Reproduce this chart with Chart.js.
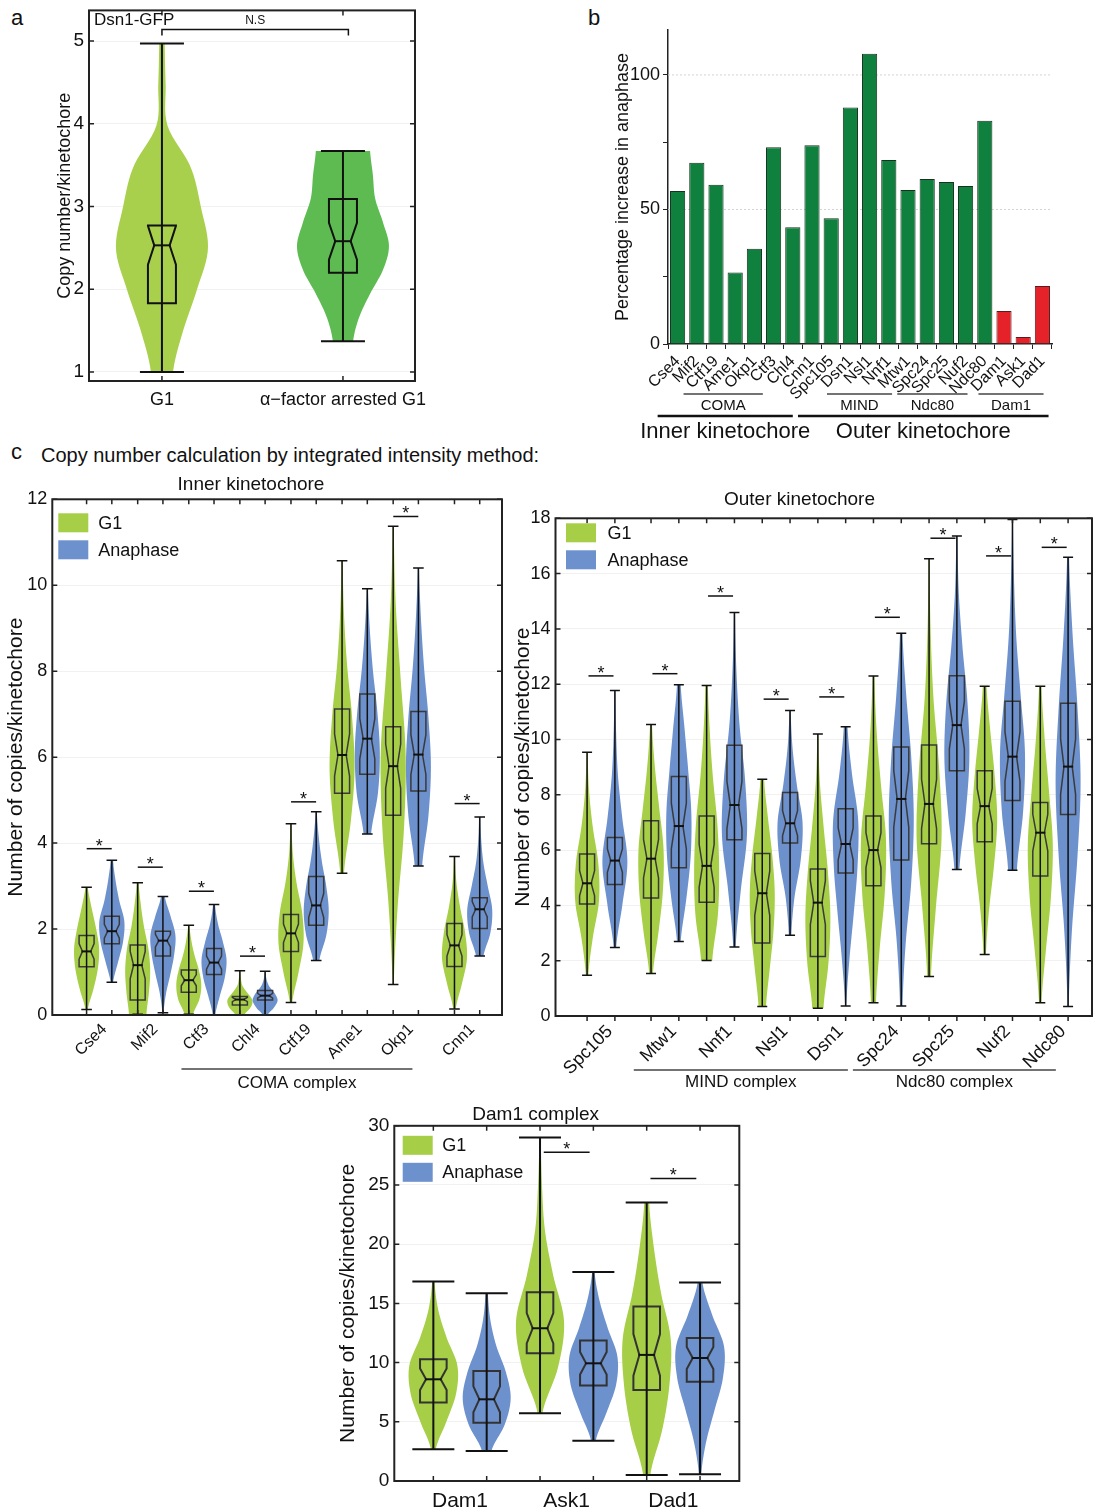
<!DOCTYPE html>
<html>
<head>
<meta charset="utf-8">
<script src="https://cdn.jsdelivr.net/npm/chart.js@4.4.0/dist/chart.umd.min.js"></script>
<style>
  body { margin: 0; background: #fff; width: 1101px; height: 1507px; position: relative; overflow: hidden;
         font-family: "Liberation Sans", Arial, Helvetica, sans-serif; color: #111; }
  canvas { position: absolute; }
  .lbl { position: absolute; font-size: 22px; line-height: 26px; }
  .cap { position: absolute; font-size: 20px; line-height: 24px; white-space: nowrap; }
</style>
</head>
<body>
<div class="lbl" style="left:11px;top:5px">a</div>
<div class="lbl" style="left:588px;top:5px">b</div>
<div class="lbl" style="left:11px;top:439px">c</div>
<div class="cap" style="left:41px;top:443px">Copy number calculation by integrated intensity method:</div>

<canvas id="chartA" width="440" height="426" style="left:0;top:-6px"></canvas>
<canvas id="chartB" width="511" height="450" style="left:590px;top:0"></canvas>
<canvas id="chartInner" width="507" height="630" style="left:0;top:470px"></canvas>
<canvas id="chartOuter" width="594" height="630" style="left:507px;top:470px"></canvas>
<canvas id="chartDam" width="420" height="412" style="left:330px;top:1095px"></canvas>

<script>
// ---------- data ----------
// violin stats are [min, q1, median, q3, max]; density = relative width at evenly spaced levels min..max

// panel a
const aNames = ['G1', 'α−factor arrested G1'];
const aStats = [[1.0, 1.83, 2.53, 2.77, 4.97], [1.37, 2.2, 2.58, 3.09, 3.67]];
const aDens = [[0.24, 0.46, 0.76, 1.0, 0.85, 0.62, 0.12, 0.08, 0.06],
               [0.22, 0.35, 0.59, 0.87, 1.0, 0.87, 0.7, 0.65, 0.59]];
const aTicks = [1, 2, 3, 4, 5];

// panel b
const bNames = ['Cse4', 'Mif2', 'Ctf19', 'Ame1', 'Okp1', 'Ctf3', 'Chl4', 'Cnn1', 'Spc105', 'Dsn1',
                'Nsl1', 'Nnf1', 'Mtw1', 'Spc24', 'Spc25', 'Nuf2', 'Ndc80', 'Dam1', 'Ask1', 'Dad1'];
const bValues = [56.9, 67.4, 59.2, 26.6, 35.4, 73.1, 43.4, 73.9, 46.7, 87.9,
                 107.9, 68.4, 57.2, 61.3, 60.2, 58.7, 83.0, 12.3, 2.6, 21.6];
const bTicks = [0, 25, 50, 75, 100];

// panel c, inner kinetochore
const innerNames = ['Cse4', 'Mif2', 'Ctf3', 'Chl4', 'Ctf19', 'Ame1', 'Okp1', 'Cnn1'];
const innerSlots = [0, 1, 2, 3, 4, 5, 6, 7.2];
const innerG1 = [
  [0.13, 1.12, 1.48, 1.85, 2.97], [0.02, 0.35, 1.16, 1.63, 3.08], [0.02, 0.53, 0.81, 1.05, 2.09],
  [0.0, 0.23, 0.36, 0.43, 1.03], [0.29, 1.48, 1.9, 2.34, 4.45], [3.3, 5.16, 6.05, 7.12, 10.57],
  [0.71, 4.65, 5.79, 6.71, 11.37], [0.14, 1.13, 1.62, 2.13, 3.69]];
const innerAna = [
  [0.76, 1.66, 1.95, 2.3, 3.6], [0.05, 1.37, 1.73, 1.95, 2.76], [0.0, 0.94, 1.22, 1.55, 2.57],
  [0.0, 0.35, 0.45, 0.57, 1.02], [1.27, 2.09, 2.55, 3.22, 4.73], [4.21, 5.6, 6.43, 7.47, 9.92],
  [3.47, 5.21, 6.06, 7.06, 10.4], [1.37, 2.01, 2.46, 2.73, 4.61]];
const innerG1Dens = [
  [0.1, 0.55, 0.9, 1.0, 0.75, 0.4, 0.1], [0.7, 0.9, 1.0, 0.85, 0.5, 0.25, 0.08],
  [0.35, 0.85, 1.0, 0.8, 0.45, 0.2, 0.05], [0.35, 0.85, 1.0, 0.6, 0.2, 0.08, 0.04],
  [0.1, 0.6, 1.0, 0.9, 0.45, 0.15, 0.05], [0.15, 0.7, 1.0, 0.8, 0.4, 0.15, 0.05],
  [0.05, 0.35, 0.85, 1.0, 0.6, 0.2, 0.05], [0.1, 0.6, 1.0, 0.85, 0.45, 0.15, 0.05]];
const innerAnaDens = [
  [0.1, 0.5, 0.9, 1.0, 0.6, 0.3, 0.1], [0.05, 0.25, 0.6, 0.9, 1.0, 0.6, 0.15],
  [0.1, 0.45, 0.85, 1.0, 0.7, 0.3, 0.08], [0.2, 0.7, 1.0, 0.75, 0.3, 0.1, 0.04],
  [0.25, 0.8, 1.0, 0.8, 0.45, 0.2, 0.05], [0.3, 0.85, 1.0, 0.8, 0.45, 0.2, 0.05],
  [0.3, 0.8, 1.0, 0.8, 0.45, 0.2, 0.05], [0.3, 0.85, 1.0, 0.65, 0.3, 0.12, 0.05]];
const innerSig = [3.87, 3.44, 2.88, 1.37, 4.96, null, 11.6, 4.92];
const innerTicks = [0, 2, 4, 6, 8, 10, 12];

// panel c, outer kinetochore
const outerNames = ['Spc105', 'Mtw1', 'Nnf1', 'Nsl1', 'Dsn1', 'Spc24', 'Spc25', 'Nuf2', 'Ndc80'];
const outerSlots = [0, 1.15, 2.15, 3.15, 4.15, 5.15, 6.15, 7.15, 8.15];
const outerG1 = [
  [1.47, 4.05, 4.8, 5.86, 9.54], [1.54, 4.27, 5.69, 7.06, 10.54], [2.01, 4.11, 5.43, 7.23, 11.95],
  [0.34, 2.64, 4.44, 5.88, 8.56], [0.28, 2.15, 4.1, 5.32, 10.2], [0.48, 4.71, 6.0, 7.23, 12.3],
  [1.43, 6.23, 7.67, 9.8, 16.54], [2.22, 6.3, 7.59, 8.87, 11.93], [0.48, 5.06, 6.63, 7.72, 11.93]];
const outerAna = [
  [2.48, 4.76, 5.62, 6.46, 11.77], [2.69, 5.36, 6.87, 8.66, 11.98], [2.5, 6.37, 7.63, 9.79, 14.59],
  [2.92, 6.26, 6.97, 8.08, 11.05], [0.36, 5.17, 6.22, 7.5, 10.46], [0.36, 5.64, 7.85, 9.73, 13.84],
  [5.3, 8.87, 10.52, 12.31, 17.36], [5.27, 7.79, 9.38, 11.38, 17.96], [0.34, 7.29, 9.02, 11.31, 16.59]];
const outerG1Dens = [
  [0.1, 0.45, 0.95, 0.9, 0.45, 0.15, 0.05], [0.15, 0.6, 0.95, 1.0, 0.65, 0.3, 0.08],
  [0.45, 0.9, 1.0, 0.85, 0.5, 0.25, 0.1], [0.3, 0.6, 0.9, 1.0, 0.8, 0.45, 0.15],
  [0.45, 0.85, 1.0, 0.8, 0.45, 0.15, 0.05], [0.2, 0.5, 0.9, 1.0, 0.6, 0.25, 0.08],
  [0.15, 0.55, 1.0, 0.8, 0.35, 0.12, 0.04], [0.1, 0.35, 0.75, 1.0, 0.8, 0.45, 0.15],
  [0.1, 0.45, 0.85, 1.0, 0.7, 0.35, 0.1]];
const outerAnaDens = [
  [0.1, 0.6, 1.0, 0.6, 0.25, 0.1, 0.04], [0.15, 0.6, 0.95, 1.0, 0.75, 0.45, 0.15],
  [0.1, 0.5, 1.0, 0.85, 0.4, 0.15, 0.05], [0.1, 0.35, 0.85, 1.0, 0.55, 0.2, 0.05],
  [0.05, 0.3, 0.65, 0.95, 1.0, 0.5, 0.15], [0.1, 0.35, 0.8, 1.0, 0.8, 0.4, 0.1],
  [0.2, 0.7, 1.0, 0.85, 0.45, 0.15, 0.05], [0.35, 0.85, 1.0, 0.65, 0.3, 0.12, 0.04],
  [0.05, 0.3, 0.75, 1.0, 0.75, 0.35, 0.08]];
const outerSig = [12.3, 12.38, 15.19, 11.46, 11.54, 14.42, 17.28, 16.64, 16.95];
const outerTicks = [0, 2, 4, 6, 8, 10, 12, 14, 16, 18];

// Dam1 complex
const damNames = ['Dam1', 'Ask1', 'Dad1'];
const damSlots = [0, 1, 2];
const damG1 = [[2.68, 6.62, 8.59, 10.28, 16.85], [5.72, 10.79, 12.9, 15.94, 29.01], [0.51, 7.69, 10.65, 14.73, 23.52]];
const damAna = [[2.54, 4.93, 6.9, 9.3, 15.86], [3.41, 8.06, 9.94, 11.86, 17.66], [0.56, 8.39, 10.39, 12.08, 16.76]];
const damG1Dens = [[0.1, 0.55, 0.95, 1.0, 0.55, 0.2, 0.05], [0.1, 0.75, 1.0, 0.55, 0.2, 0.08, 0.03],
                   [0.15, 0.65, 0.95, 1.0, 0.6, 0.3, 0.1]];
const damAnaDens = [[0.2, 0.75, 1.0, 0.8, 0.4, 0.15, 0.05], [0.1, 0.55, 0.95, 1.0, 0.6, 0.25, 0.05],
                    [0.05, 0.25, 0.6, 0.95, 1.0, 0.5, 0.1]];
const damSig = [null, 27.77, 25.55];
const damTicks = [0, 5, 10, 15, 20, 25, 30];

// ---------- drawing ----------
const FONT = '"Liberation Sans", Arial, Helvetica, sans-serif';
const G1_COLOR = '#a6ce47';
const ANA_COLOR = '#6d91cd';
Chart.defaults.font.family = FONT;
Chart.defaults.color = '#111';

function smoothWidths(dens, n) {
  const m = dens.length, out = [];
  for (let k = 0; k <= n; k++) {
    const t = k / n * (m - 1);
    const i = Math.min(Math.floor(t), m - 2), f = t - i;
    const p0 = dens[Math.max(i - 1, 0)], p1 = dens[i], p2 = dens[i + 1], p3 = dens[Math.min(i + 2, m - 1)];
    const w = 0.5 * (2 * p1 + (p2 - p0) * f + (2 * p0 - 5 * p1 + 4 * p2 - p3) * f * f +
                     (3 * p1 - p0 - 3 * p2 + p3) * f * f * f);
    out.push(Math.max(w, 0.02));
  }
  return out;
}

function drawViolin(ctx, y, cx, st, dens, color, sz) {
  const n = 60, ws = smoothWidths(dens, n);
  const [mn, q1, md, q3, mx] = st;
  const Y = v => y.getPixelForValue(v);
  ctx.beginPath();
  for (let k = 0; k <= n; k++) {
    const py = Y(mn + (mx - mn) * k / n);
    k ? ctx.lineTo(cx + ws[k] * sz.vw, py) : ctx.moveTo(cx + ws[k] * sz.vw, py);
  }
  for (let k = n; k >= 0; k--) ctx.lineTo(cx - ws[k] * sz.vw, Y(mn + (mx - mn) * k / n));
  ctx.closePath();
  ctx.fillStyle = color;
  ctx.fill();

  // notched box
  const nh = 0.25 * (q3 - q1);
  const lo = Math.max(q1, md - nh), hi = Math.min(q3, md + nh);
  const b = sz.bw, w = sz.bw * 0.55;
  ctx.beginPath();
  ctx.moveTo(cx - b, Y(q1)); ctx.lineTo(cx - b, Y(lo)); ctx.lineTo(cx - w, Y(md));
  ctx.lineTo(cx - b, Y(hi)); ctx.lineTo(cx - b, Y(q3)); ctx.lineTo(cx + b, Y(q3));
  ctx.lineTo(cx + b, Y(hi)); ctx.lineTo(cx + w, Y(md)); ctx.lineTo(cx + b, Y(lo));
  ctx.lineTo(cx + b, Y(q1)); ctx.closePath();
  ctx.strokeStyle = sz.boxColor; ctx.lineWidth = sz.blw; ctx.stroke();

  // whisker and caps
  ctx.strokeStyle = '#111'; ctx.lineWidth = sz.lw;
  ctx.beginPath();
  ctx.moveTo(cx, Y(mn)); ctx.lineTo(cx, Y(mx));
  ctx.moveTo(cx - sz.cw, Y(mn)); ctx.lineTo(cx + sz.cw, Y(mn));
  ctx.moveTo(cx - sz.cw, Y(mx)); ctx.lineTo(cx + sz.cw, Y(mx));
  ctx.stroke();

  // median
  ctx.lineWidth = sz.mlw;
  ctx.beginPath(); ctx.moveTo(cx - w - 1, Y(md)); ctx.lineTo(cx + w + 1, Y(md)); ctx.stroke();
}

function violinPlugin(cfg) {
  return {
    id: 'violins',
    afterDatasetsDraw(chart) {
      const { ctx, chartArea: ca, scales: { x, y } } = chart;
      const sz = cfg.size;
      ctx.save();
      cfg.groups.forEach(g => g.stats.forEach((st, i) => {
        const col = Array.isArray(g.color) ? g.color[i] : g.color;
        drawViolin(ctx, y, x.getPixelForValue(cfg.slots[i] + g.offset), st, g.dens[i], col, sz);
      }));

      // significance bars
      if (cfg.sig) {
        ctx.strokeStyle = '#111'; ctx.lineWidth = 1.5; ctx.fillStyle = '#111';
        ctx.font = '18px ' + FONT; ctx.textAlign = 'center'; ctx.textBaseline = 'alphabetic';
        cfg.sig.forEach((v, i) => {
          if (v === null) return;
          const x0 = x.getPixelForValue(cfg.slots[i] - cfg.sigHalf), x1 = x.getPixelForValue(cfg.slots[i] + cfg.sigHalf);
          const py = y.getPixelForValue(v);
          ctx.beginPath(); ctx.moveTo(x0, py); ctx.lineTo(x1, py); ctx.stroke();
          ctx.fillText('*', (x0 + x1) / 2, py + 3);
        });
      }

      // frame with ticks (bottom ticks point outward when tickOut is set)
      ctx.strokeStyle = '#222'; ctx.lineWidth = 2;
      ctx.strokeRect(ca.left, ca.top, ca.right - ca.left, ca.bottom - ca.top);
      ctx.lineWidth = 1.5;
      ctx.beginPath();
      y.ticks.forEach(t => {
        const py = y.getPixelForValue(t.value);
        ctx.moveTo(ca.left, py); ctx.lineTo(ca.left + 5, py);
        ctx.moveTo(ca.right, py); ctx.lineTo(ca.right - 5, py);
      });
      const bt = cfg.tickOut ? 5 : -5;
      cfg.groups.forEach(g => cfg.slots.forEach(s => {
        const px = x.getPixelForValue(s + g.offset);
        ctx.moveTo(px, ca.top); ctx.lineTo(px, ca.top + 5);
        ctx.moveTo(px, ca.bottom); ctx.lineTo(px, ca.bottom + bt);
      }));
      ctx.stroke();

      // legend
      if (cfg.legend) {
        const L = cfg.legend;
        ctx.font = L.font + 'px ' + FONT; ctx.textAlign = 'left'; ctx.textBaseline = 'middle';
        cfg.groups.forEach((g, i) => {
          const yy = ca.top + L.dy[i];
          ctx.fillStyle = g.color; ctx.fillRect(ca.left + L.dx, yy, L.w, L.h);
          ctx.fillStyle = '#111'; ctx.fillText(g.label, ca.left + L.tx, yy + L.h / 2 + 1);
        });
      }

      // complex brackets under the axis
      (cfg.brackets || []).forEach(br => {
        const x0 = x.getPixelForValue(br.from), x1 = x.getPixelForValue(br.to);
        ctx.strokeStyle = '#444'; ctx.lineWidth = 1.5;
        ctx.beginPath(); ctx.moveTo(x0, ca.bottom + br.dy); ctx.lineTo(x1, ca.bottom + br.dy); ctx.stroke();
        ctx.fillStyle = '#111'; ctx.font = '17px ' + FONT; ctx.textAlign = 'center'; ctx.textBaseline = 'middle';
        ctx.fillText(br.text, (x0 + x1) / 2, ca.bottom + br.tdy);
      });

      if (cfg.extra) cfg.extra(chart);
      ctx.restore();
    }
  };
}

function violinChart(id, cfg) {
  const shift = cfg.labelShift || 0;
  return new Chart(document.getElementById(id), {
    type: 'scatter',
    data: {
      datasets: cfg.groups.map(g => ({
        label: g.label,
        data: g.stats.map((s, i) => ({ x: cfg.slots[i] + g.offset, y: s[2] })),
        pointRadius: 0
      }))
    },
    options: {
      responsive: false, animation: false, events: [],
      layout: { padding: cfg.padding },
      plugins: {
        legend: { display: false }, tooltip: { enabled: false },
        title: cfg.title ? { display: true, text: cfg.title, font: { size: 19, weight: 'normal' }, color: '#111',
                             padding: cfg.titlePad } : { display: false }
      },
      scales: {
        x: {
          type: 'linear', min: cfg.xMin, max: cfg.xMax,
          afterBuildTicks: s => { s.ticks = cfg.slots.map(v => ({ value: v + shift })); },
          afterFit: s => { s.height = cfg.xAxisH; },
          grid: { display: false }, border: { display: false },
          ticks: { autoSkip: false, maxRotation: cfg.rot, minRotation: cfg.rot, font: { size: cfg.xFont },
                   color: '#111', padding: cfg.xPad, callback: (v, i) => cfg.names[i] }
        },
        y: {
          min: cfg.yMin, max: cfg.yMax,
          afterBuildTicks: s => { s.ticks = cfg.yTicks.map(v => ({ value: v })); },
          afterFit: s => { s.width = cfg.yAxisW; },
          grid: { color: '#f1f1f1', drawTicks: false }, border: { display: false },
          ticks: { font: { size: cfg.yFont }, color: '#111', padding: 5 },
          title: { display: true, text: cfg.yTitle, font: { size: cfg.yTitleFont }, color: '#111', padding: { top: 4, bottom: 4 } }
        }
      }
    },
    plugins: [violinPlugin(cfg)]
  });
}

// ---------- panel a ----------
violinChart('chartA', {
  names: aNames, slots: [1, 2], xMin: 0.597, xMax: 2.398, yMin: 0.89, yMax: 5.37, yTicks: aTicks,
  padding: { left: 50, top: 14, right: 25, bottom: 0 }, yAxisW: 39, xAxisH: 39,
  rot: 0, xFont: 18, xPad: 0, yFont: 19, yTitle: 'Copy number/kinetochore', yTitleFont: 18,
  groups: [{ label: '', offset: 0, stats: aStats, dens: aDens, color: ['#a8d04c', '#5dbb52'] }],
  size: { vw: 46, bw: 14, cw: 22, lw: 2, blw: 2, mlw: 2, boxColor: '#111' },
  extra(chart) {
    const { ctx, chartArea: ca, scales: { x, y } } = chart;
    const x0 = x.getPixelForValue(1), x1 = x.getPixelForValue(2.03), py = y.getPixelForValue(5.14);
    ctx.strokeStyle = '#111'; ctx.lineWidth = 1.5;
    ctx.beginPath();
    ctx.moveTo(x0, py + 6); ctx.lineTo(x0, py); ctx.lineTo(x1, py); ctx.lineTo(x1, py + 6);
    ctx.stroke();
    ctx.fillStyle = '#111'; ctx.textBaseline = 'middle';
    ctx.font = '12px ' + FONT; ctx.textAlign = 'center';
    ctx.fillText('N.S', (x0 + x1) / 2, ca.top + 10);
    ctx.font = '17px ' + FONT; ctx.textAlign = 'left';
    ctx.fillText('Dsn1-GFP', ca.left + 5, ca.top + 10);
  }
});

// ---------- panel b ----------
const redFrom = bNames.indexOf('Dam1');
new Chart(document.getElementById('chartB'), {
  type: 'bar',
  data: {
    labels: bNames,
    datasets: [{
      data: bValues,
      backgroundColor: c => c.dataIndex >= redFrom ? '#e52129' : '#0f803d',
      borderColor: c => c.dataIndex >= redFrom ? '#5a1c1c' : '#17321f',
      borderWidth: 1, barPercentage: 0.79, categoryPercentage: 1
    }]
  },
  options: {
    responsive: false, animation: false, events: [],
    layout: { padding: { left: 18, top: 30, right: 49, bottom: 0 } },
    plugins: { legend: { display: false }, tooltip: { enabled: false } },
    scales: {
      x: {
        afterFit: s => { s.height = 106; },
        grid: { display: true, drawOnChartArea: false, tickLength: 5, color: '#222' },
        border: { display: true, color: '#222', width: 1.5 },
        ticks: { autoSkip: false, maxRotation: 45, minRotation: 45, font: { size: 16 }, color: '#111', padding: 3 }
      },
      y: {
        min: 0, max: 116.7,
        afterBuildTicks: s => { s.ticks = bTicks.map(v => ({ value: v })); },
        afterFit: s => { s.width = 60; },
        grid: { drawOnChartArea: false, tickLength: 5, color: '#222' },
        border: { display: true, color: '#222', width: 1.5 },
        ticks: { font: { size: 18 }, color: '#111', padding: 3, callback: v => (v % 50 === 0 ? v : '') },
        title: { display: true, text: 'Percentage increase in anaphase', font: { size: 18 }, color: '#111' }
      }
    }
  },
  plugins: [{
    id: 'bExtras',
    beforeDatasetsDraw(chart) {
      const { ctx, chartArea: ca, scales: { y } } = chart;
      ctx.save();
      ctx.strokeStyle = '#d4d4d4'; ctx.lineWidth = 1; ctx.setLineDash([2, 2]);
      [50, 100].forEach(v => {
        const py = y.getPixelForValue(v);
        ctx.beginPath(); ctx.moveTo(ca.left, py); ctx.lineTo(ca.right, py); ctx.stroke();
      });
      ctx.restore();
    },
    afterDatasetsDraw(chart) {
      const { ctx, chartArea: ca, scales: { x } } = chart;
      const P = v => x.getPixelForValue(v);
      ctx.save();
      ctx.fillStyle = '#111'; ctx.textAlign = 'center'; ctx.textBaseline = 'middle';
      [['COMA', 0.31, 4.44], ['MIND', 7.78, 11.17], ['Ndc80', 11.44, 15.1], ['Dam1', 15.67, 19.06]].forEach(([t, a, b]) => {
        ctx.strokeStyle = '#444'; ctx.lineWidth = 1.5;
        ctx.beginPath(); ctx.moveTo(P(a), ca.bottom + 50); ctx.lineTo(P(b), ca.bottom + 50); ctx.stroke();
        ctx.font = '15px ' + FONT; ctx.fillText(t, (P(a) + P(b)) / 2, ca.bottom + 62);
      });
      [['Inner kinetochore', -1.04, 6.0], ['Outer kinetochore', 6.27, 19.32]].forEach(([t, a, b]) => {
        ctx.strokeStyle = '#111'; ctx.lineWidth = 2.5;
        ctx.beginPath(); ctx.moveTo(P(a), ca.bottom + 72); ctx.lineTo(P(b), ca.bottom + 72); ctx.stroke();
        ctx.font = '22px ' + FONT; ctx.fillText(t, (P(a) + P(b)) / 2, ca.bottom + 88);
      });
      ctx.restore();
    }
  }]
});

// ---------- panel c: inner ----------
violinChart('chartInner', {
  names: innerNames, slots: innerSlots, xMin: -0.918, xMax: 7.883, yMin: 0, yMax: 12, yTicks: innerTicks,
  title: 'Inner kinetochore', titlePad: { top: 3, bottom: 3.5 },
  padding: { left: 0, top: 0, right: 5, bottom: 0 }, yAxisW: 52.3, xAxisH: 85,
  rot: 45, xFont: 16, xPad: -3, labelShift: 0.1, yFont: 18, yTitle: 'Number of copies/kinetochore', yTitleFont: 21,
  groups: [{ label: 'G1', offset: -0.247, stats: innerG1, dens: innerG1Dens, color: G1_COLOR },
           { label: 'Anaphase', offset: 0.247, stats: innerAna, dens: innerAnaDens, color: ANA_COLOR }],
  size: { vw: 12.5, bw: 7.5, cw: 5.3, lw: 1.5, blw: 1.5, mlw: 2, boxColor: '#3a3a3a' },
  sig: innerSig, sigHalf: 0.245,
  legend: { dx: 6, dy: [14, 41], w: 30, h: 19, tx: 46, font: 18 },
  brackets: [{ from: 1.61, to: 6.13, text: 'COMA complex', dy: 54, tdy: 68 }]
});

// ---------- panel c: outer ----------
violinChart('chartOuter', {
  names: outerNames, slots: outerSlots, xMin: -0.818, xMax: 8.83, yMin: 0, yMax: 18, yTicks: outerTicks,
  title: 'Outer kinetochore', titlePad: { top: 18.5, bottom: 7 },
  padding: { left: 0, top: 0, right: 9, bottom: 0 }, yAxisW: 48.5, xAxisH: 84,
  rot: 45, xFont: 18, xPad: -3, labelShift: 0.16, tickOut: true,
  yFont: 18, yTitle: 'Number of copies/kinetochore', yTitleFont: 21,
  groups: [{ label: 'G1', offset: -0.25, stats: outerG1, dens: outerG1Dens, color: G1_COLOR },
           { label: 'Anaphase', offset: 0.25, stats: outerAna, dens: outerAnaDens, color: ANA_COLOR }],
  size: { vw: 12.5, bw: 7.5, cw: 5, lw: 1.5, blw: 1.5, mlw: 2, boxColor: '#3a3a3a' },
  sig: outerSig, sigHalf: 0.225,
  legend: { dx: 10.5, dy: [5, 32], w: 30, h: 19, tx: 52, font: 18 },
  brackets: [{ from: 0.59, to: 4.44, text: 'MIND complex', dy: 54, tdy: 66 },
             { from: 4.53, to: 8.18, text: 'Ndc80 complex', dy: 54, tdy: 66 }]
});

// ---------- Dam1 complex ----------
violinChart('chartDam', {
  names: damNames, slots: damSlots, xMin: -0.616, xMax: 2.618, yMin: 0, yMax: 30, yTicks: damTicks,
  title: 'Dam1 complex', titlePad: { top: 8, bottom: 0 },
  padding: { left: 2, top: 0, right: 10.7, bottom: 0 }, yAxisW: 62.3, xAxisH: 26,
  rot: 0, xFont: 21, xPad: 0, yFont: 19, yTitle: 'Number of copies/kinetochore', yTitleFont: 21,
  groups: [{ label: 'G1', offset: -0.25, stats: damG1, dens: damG1Dens, color: G1_COLOR },
           { label: 'Anaphase', offset: 0.25, stats: damAna, dens: damAnaDens, color: ANA_COLOR }],
  size: { vw: 24, bw: 13.3, cw: 21, lw: 2, blw: 2, mlw: 2, boxColor: '#333' },
  sig: damSig, sigHalf: 0.215,
  legend: { dx: 8.4, dy: [10, 37], w: 30, h: 19, tx: 48, font: 18 }
});
</script>
</body>
</html>
